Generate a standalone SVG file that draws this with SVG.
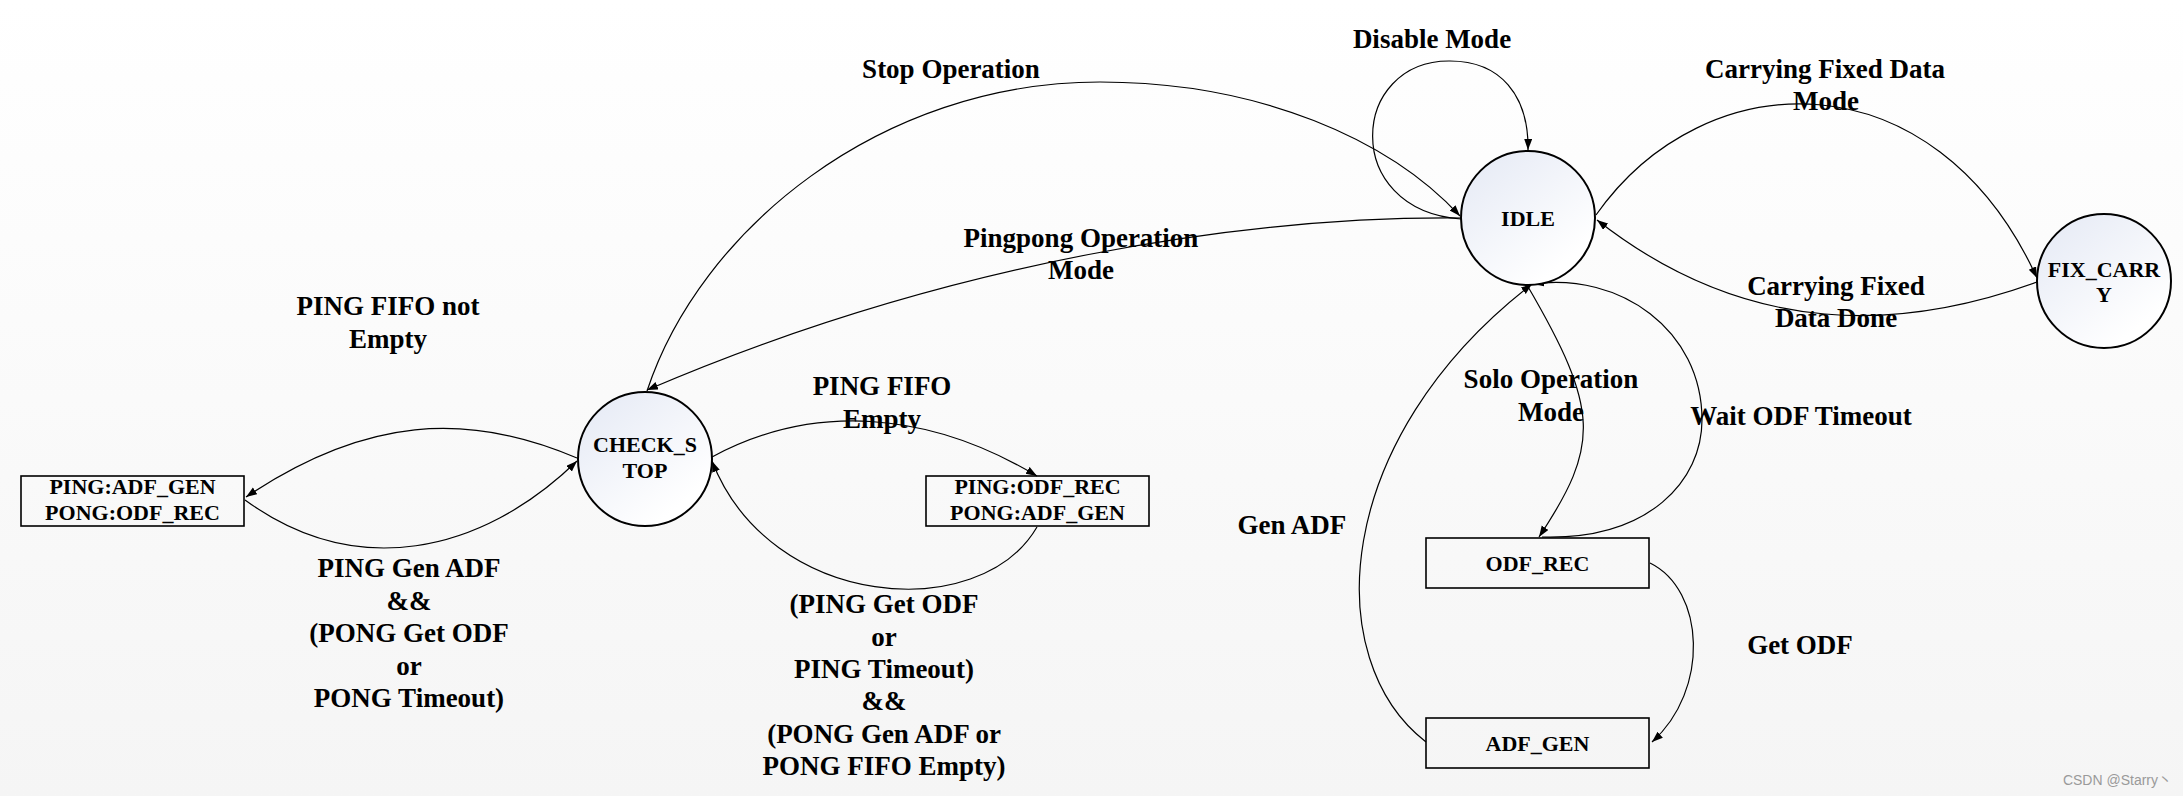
<svg xmlns="http://www.w3.org/2000/svg" width="2183" height="796" viewBox="0 0 2183 796">
<defs>
<linearGradient id="bg" x1="0" y1="0" x2="0" y2="1">
<stop offset="0" stop-color="#ffffff"/>
<stop offset="1" stop-color="#f5f5f5"/>
</linearGradient>
<linearGradient id="cf" x1="0.15" y1="0.1" x2="0.75" y2="0.85">
<stop offset="0" stop-color="#e8ecf6"/>
<stop offset="1" stop-color="#ffffff"/>
</linearGradient>
<marker id="arr" markerUnits="userSpaceOnUse" markerWidth="12" markerHeight="9" refX="11" refY="4" orient="auto">
<path d="M0,0 L11,4 L0,8 z" fill="#000"/>
</marker>
<style>
.st{fill:url(#cf);stroke:#000;stroke-width:2}
.bx{fill:none;stroke:#000;stroke-width:1.6}
.nd{font-family:"Liberation Serif",serif;font-weight:bold;font-size:22px;text-anchor:middle;fill:#000}
.lb{font-family:"Liberation Serif",serif;font-weight:bold;font-size:27px;text-anchor:middle;fill:#000}
.ed{fill:none;stroke:#000;stroke-width:1.2;marker-end:url(#arr)}
.ln{fill:none;stroke:#000;stroke-width:1.2}
</style>
</defs>
<rect x="0" y="0" width="2183" height="796" fill="url(#bg)"/>

<g id="connectors">
<path class="ed" d="M577,458 C467,411 365,417 246,497"/>
<path class="ed" d="M245,500 C355,580 480,555 577,461"/>
<path class="ed" d="M712,457 C812,403 927,410 1037,476"/>
<path class="ed" d="M1037,527 C980,625 770,610 712,461"/>
<path class="ed" d="M647,391 C700,230 880,82 1100,82 C1260,82 1390,140 1460,216"/>
<path class="ed" d="M1462,218 C1250,216 950,260 647,390"/>
<path class="ed" d="M1461,219 C1340,210 1350,60 1450,61 C1500,61 1529,95 1528,150"/>
<path class="ed" d="M1596,215 C1705,60 1935,55 2037,278"/>
<path class="ed" d="M2037,282 C1905,330 1750,340 1597,220"/>
<path class="ed" d="M1527,285 C1600,410 1600,445 1539,537"/>
<path class="ed" d="M1542,537 C1650,540 1702,480 1702,420 C1702,330 1620,272 1533,284"/>
<path class="ed" d="M1650,563 C1705,590 1710,690 1652,742"/>
<path class="ed" d="M1426,742 C1320,660 1330,440 1532,284"/>
</g>

<g id="labels">
<text class="lb" x="951" y="78">Stop Operation</text>
<text class="lb" x="1432" y="48">Disable Mode</text>
<text class="lb" x="1825" y="78">Carrying Fixed Data</text>
<text class="lb" x="1826" y="110">Mode</text>
<text class="lb" x="1081" y="247">Pingpong Operation</text>
<text class="lb" x="1081" y="279">Mode</text>
<text class="lb" x="388" y="315">PING FIFO not</text>
<text class="lb" x="388" y="348">Empty</text>
<text class="lb" x="882" y="395">PING FIFO</text>
<text class="lb" x="882" y="428">Empty</text>
<text class="lb" x="1836" y="295">Carrying Fixed</text>
<text class="lb" x="1836" y="327">Data Done</text>
<text class="lb" x="1551" y="388">Solo Operation</text>
<text class="lb" x="1551" y="421">Mode</text>
<text class="lb" x="1801" y="425">Wait ODF Timeout</text>
<text class="lb" x="1292" y="534">Gen ADF</text>
<text class="lb" x="1800" y="654">Get ODF</text>
<text class="lb" x="409" y="577">PING Gen ADF</text>
<text class="lb" x="409" y="610">&amp;&amp;</text>
<text class="lb" x="409" y="642">(PONG Get ODF</text>
<text class="lb" x="409" y="675">or</text>
<text class="lb" x="409" y="707">PONG Timeout)</text>
<text class="lb" x="884" y="613">(PING Get ODF</text>
<text class="lb" x="884" y="646">or</text>
<text class="lb" x="884" y="678">PING Timeout)</text>
<text class="lb" x="884" y="710">&amp;&amp;</text>
<text class="lb" x="884" y="743">(PONG Gen ADF or</text>
<text class="lb" x="884" y="775">PONG FIFO Empty)</text>
</g>

<g id="node-ping-adf-gen">
<rect class="bx" x="21" y="476" width="223" height="50"/>
<text class="nd" x="132.5" y="494">PING:ADF_GEN</text>
<text class="nd" x="132.5" y="520">PONG:ODF_REC</text>
</g>
<g id="node-check-stop">
<circle class="st" cx="645" cy="459" r="67"/>
<text class="nd" x="645" y="452">CHECK_S</text>
<text class="nd" x="645" y="478">TOP</text>
</g>
<g id="node-ping-odf-rec">
<rect class="bx" x="926" y="476" width="223" height="50"/>
<text class="nd" x="1037.5" y="494">PING:ODF_REC</text>
<text class="nd" x="1037.5" y="520">PONG:ADF_GEN</text>
</g>
<g id="node-idle">
<circle class="st" cx="1528" cy="218" r="67"/>
<text class="nd" x="1528" y="226">IDLE</text>
</g>
<g id="node-fix-carry">
<circle class="st" cx="2104" cy="281" r="67"/>
<text class="nd" x="2104" y="277">FIX_CARR</text>
<text class="nd" x="2104" y="302">Y</text>
</g>
<g id="node-odf-rec">
<rect class="bx" x="1426" y="538" width="223" height="50"/>
<text class="nd" x="1537.5" y="571">ODF_REC</text>
</g>
<g id="node-adf-gen">
<rect class="bx" x="1426" y="718" width="223" height="50"/>
<text class="nd" x="1537.5" y="751">ADF_GEN</text>
</g>

<text x="2172" y="785" text-anchor="end" font-family="'Liberation Sans','Noto Sans CJK SC',sans-serif" font-size="14" fill="#9a9a9a">CSDN @Starry丶</text>
</svg>
